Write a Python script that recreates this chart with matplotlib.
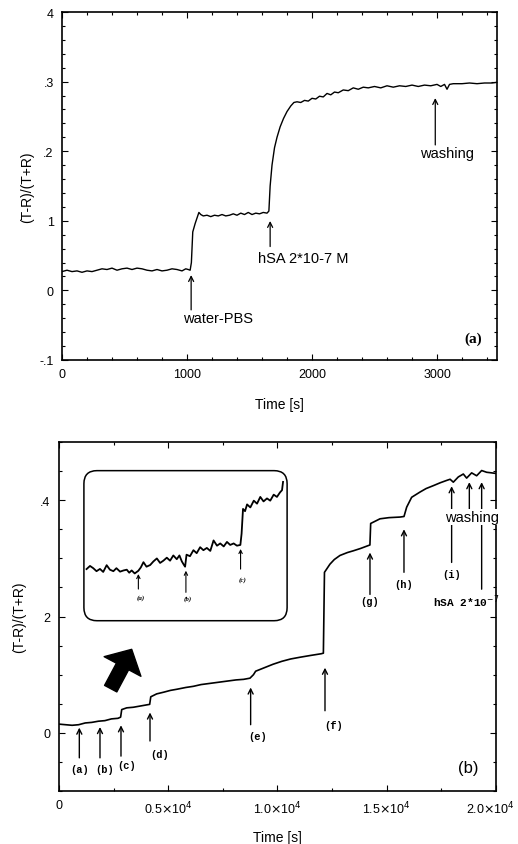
import matplotlib
matplotlib.use("Agg")
import numpy as np
import matplotlib.pyplot as plt
import matplotlib.transforms as mtransforms
from matplotlib.patches import FancyArrowPatch, FancyBboxPatch, ArrowStyle
from matplotlib.ticker import MultipleLocator

# ---- panel (a) trace ----
time_a = [0, 40, 80, 120, 160, 200, 240, 280, 320, 360, 400, 440, 480, 520, 560,
          600, 640, 680, 720, 760, 800, 840, 880, 920, 960, 990, 1010, 1025, 1035,
          1046, 1065, 1080, 1095, 1110, 1130, 1160, 1190, 1220, 1250, 1280, 1310,
          1340, 1370, 1400, 1430, 1460, 1490, 1520, 1550, 1580, 1610, 1640, 1655,
          1665, 1680, 1700, 1720, 1745, 1772, 1800, 1830, 1855, 1880, 1910, 1940,
          1970, 2000, 2030, 2060, 2090, 2120, 2150, 2180, 2210, 2250, 2290, 2330,
          2370, 2410, 2450, 2500, 2550, 2600, 2650, 2700, 2750, 2800, 2850, 2900,
          2950, 3000, 3030, 3060, 3080, 3100, 3130, 3200, 3260, 3320, 3380, 3440, 3480]
signal_a = [0.027, 0.029, 0.027, 0.028, 0.026, 0.028, 0.027, 0.029, 0.031, 0.030,
            0.032, 0.029, 0.031, 0.032, 0.030, 0.032, 0.031, 0.029, 0.028, 0.030,
            0.028, 0.029, 0.031, 0.030, 0.028, 0.031, 0.030, 0.029, 0.040, 0.084,
            0.096, 0.104, 0.112, 0.109, 0.107, 0.108, 0.106, 0.108, 0.107, 0.109,
            0.107, 0.108, 0.110, 0.108, 0.111, 0.109, 0.112, 0.109, 0.111, 0.110,
            0.112, 0.111, 0.114, 0.150, 0.180, 0.205, 0.220, 0.235, 0.247, 0.257,
            0.265, 0.270, 0.271, 0.270, 0.273, 0.272, 0.276, 0.275, 0.279, 0.278,
            0.283, 0.281, 0.285, 0.284, 0.288, 0.287, 0.291, 0.289, 0.292, 0.291,
            0.293, 0.291, 0.294, 0.292, 0.294, 0.293, 0.295, 0.293, 0.295, 0.294,
            0.296, 0.293, 0.296, 0.289, 0.296, 0.297, 0.297, 0.298, 0.297, 0.298,
            0.298, 0.299]

events_a = ["water-PBS", "hSA 2*10-7 M", "washing"]
event_time_a = [1033, 1665, 2986]
event_head_a = [0.022, 0.0997, 0.2763]
event_tail_a = [-0.028, 0.063, 0.209]
label_pos_a = [(1251, -0.040), (1932, 0.046), (3080, 0.197)]

# ---- panel (b) trace ----
time_b = [0, 300, 600, 900, 1200, 1500, 1800, 2100, 2400, 2700, 2820, 2870, 3100,
          3400, 3700, 4000, 4150, 4200, 4470, 4800, 5100, 5400, 5800, 6150, 6500,
          6900, 7300, 7700, 8100, 8450, 8740, 8900, 9000, 9400, 9800, 10200, 10600,
          11030, 11500, 12000, 12100, 12150, 12400, 12600, 12860, 13200, 13470,
          13800, 14156, 14230, 14265, 14691, 15100, 15606, 15790, 15912, 16140,
          16522, 16800, 17132, 17450, 17742, 17900, 18047, 18276, 18505, 18657,
          18886, 19115, 19344, 19573, 19800, 20000]
signal_b = [0.015, 0.014, 0.013, 0.014, 0.017, 0.018, 0.020, 0.021, 0.024, 0.025,
            0.027, 0.040, 0.043, 0.044, 0.046, 0.048, 0.049, 0.062, 0.067, 0.070,
            0.073, 0.075, 0.078, 0.080, 0.083, 0.085, 0.087, 0.089, 0.091, 0.092,
            0.094, 0.100, 0.106, 0.112, 0.118, 0.123, 0.127, 0.130, 0.133, 0.136,
            0.137, 0.276, 0.290, 0.298, 0.305, 0.310, 0.313, 0.317, 0.322, 0.323,
            0.360, 0.368, 0.370, 0.371, 0.372, 0.388, 0.405, 0.414, 0.420, 0.425,
            0.430, 0.434, 0.436, 0.431, 0.440, 0.445, 0.438, 0.447, 0.442, 0.451,
            0.448, 0.447, 0.446]

steps_b = ["(a)", "(b)", "(c)", "(d)", "(e)", "(f)", "(g)", "(h)", "(i)"]
step_time_b = [930, 1876, 2837, 4165, 8771, 12174, 14233, 15789, 17970]
step_head_b = [0.009, 0.010, 0.013, 0.035, 0.078, 0.112, 0.310, 0.350, 0.424]
step_tail_b = [-0.043, -0.043, -0.040, -0.014, 0.014, 0.038, 0.238, 0.276, 0.293]
step_text_b = [(930, -0.063), (2100, -0.063), (3100, -0.055), (4600, -0.036),
               (9100, -0.006), (12555, 0.014), (14233, 0.227), (15750, 0.256),
               (17970, 0.273)]
wash_time_b = [18780, 19344]
wash_head_b = [0.431, 0.431]
wash_tail_b = [0.382, 0.247]

# ---- inset (zoom of the start of panel b) ----
inset_x = [1.3, 3.0, 4.6, 6.2, 7.9, 9.5, 11.2, 12.8, 14.5, 16.0, 17.8, 19.5, 21.1,
           22.3, 23.5, 25.0, 26.8, 28.0, 29.3, 30.8, 32.6, 34.2, 35.9, 37.5, 39.1,
           40.8, 42.4, 44.0, 45.7, 47.0, 48.2, 49.3, 49.8, 50.5, 52.2, 53.9, 55.5,
           57.2, 58.8, 60.5, 62.2, 63.8, 65.5, 67.1, 68.8, 70.4, 72.0, 73.7, 75.3,
           77.0, 77.6, 78.3, 79.3, 80.3, 81.9, 83.6, 85.2, 86.8, 88.4, 90.1, 91.7,
           93.4, 95.0, 96.5, 97.5, 98.0]
inset_y = [34.4, 36.5, 35.0, 33.0, 34.5, 32.5, 37.0, 34.0, 33.0, 35.0, 32.7, 33.5,
           34.0, 32.0, 33.5, 31.5, 33.3, 35.5, 39.0, 36.0, 37.1, 39.5, 41.5, 38.5,
           40.0, 42.0, 40.0, 43.5, 41.0, 43.5, 39.5, 37.0, 36.0, 44.0, 43.0, 47.0,
           45.0, 49.0, 47.0, 48.5, 46.5, 53.5, 50.0, 51.5, 49.5, 52.5, 50.5, 51.5,
           50.0, 50.5, 58.0, 74.5, 73.0, 77.5, 75.5, 80.0, 78.0, 82.5, 79.5, 81.5,
           80.0, 84.0, 82.5, 85.5, 87.0, 92.5]
inset_steps = ["(a)", "(b)", "(c)"]
inset_step_x = [26.8, 50.2, 77.1]
inset_head = [31.1, 33.3, 47.8]
inset_tail = [21.1, 18.9, 34.4]
inset_text_y = [16.0, 15.0, 28.0]

plt.rcParams['font.family'] = ['Liberation Sans', 'DejaVu Sans']
mono = ['Liberation Mono', 'DejaVu Sans Mono']

fig = plt.figure(figsize=(5.18, 8.45), dpi=100)


def style_axes(ax):
    for s in ax.spines.values():
        s.set_linewidth(1.2)
    ax.tick_params(which='both', direction='in', top=True, right=True,
                   labelsize=9, width=0.8)
    ax.tick_params(which='major', length=4, pad=6)
    ax.tick_params(which='minor', length=2)


# ---------------- panel (a) ----------------
ax1 = fig.add_axes([0.1197, 0.5728, 0.8398, 0.4118])
ax1.plot(time_a, signal_a, color='black', lw=1.0)
ax1.set_xlim(0, 3480)
ax1.set_ylim(-0.1, 0.4)
ax1.set_xticks([0, 1000, 2000, 3000])
ax1.set_yticks([-0.1, 0, 0.1, 0.2, 0.3, 0.4])
ax1.set_yticklabels(["-.1", "0", "1", ".2", ".3", "4"])
ax1.yaxis.set_minor_locator(MultipleLocator(0.02))
ax1.xaxis.set_minor_locator(MultipleLocator(200))
style_axes(ax1)
ax1.set_xlabel("Time [s]", fontsize=10, labelpad=12)
ax1.set_ylabel("(T-R)/(T+R)", fontsize=10, labelpad=4)

for name, t, h, tl, pos in zip(events_a, event_time_a, event_head_a, event_tail_a, label_pos_a):
    ax1.annotate("", xy=(t, h), xytext=(t, tl),
                 arrowprops=dict(arrowstyle='->', lw=0.9, color='black',
                                 shrinkA=0, shrinkB=0, mutation_scale=9))
    ax1.text(pos[0], pos[1], name, ha='center', va='center', fontsize=10.5)

ax1.text(3293, -0.069, "(a)", ha='center', va='center', fontsize=11,
         family=['Liberation Serif', 'DejaVu Serif'], weight='bold')

# ---------------- panel (b) ----------------
ax2 = fig.add_axes([0.1139, 0.0627, 0.8436, 0.4130])
ax2.plot(time_b, signal_b, color='black', lw=1.2)
ax2.set_xlim(0, 20000)
ax2.set_ylim(-0.1, 0.5)
ax2.set_xticks([0, 5000, 10000, 15000, 20000])
ax2.set_xticklabels(["0", r"0.5$\times$10$^4$", r"1.0$\times$10$^4$",
                     r"1.5$\times$10$^4$", r"2.0$\times$10$^4$"])
ax2.set_yticks([0, 0.2, 0.4])
ax2.set_yticklabels(["0", "2", ".4"])
ax2.yaxis.set_minor_locator(MultipleLocator(0.05))
ax2.xaxis.set_minor_locator(MultipleLocator(2500))
style_axes(ax2)
ax2.set_xlabel("Time [s]", fontsize=10, labelpad=10)
ax2.set_ylabel("(T-R)/(T+R)", fontsize=10, labelpad=10)

# last tick label sits at the right edge of the figure, nudge it in a bit
shift = mtransforms.ScaledTranslation(-6 / 100, 0, fig.dpi_scale_trans)
last = ax2.get_xticklabels()[-1]
last.set_transform(last.get_transform() + shift)

for name, t, h, tl, pos in zip(steps_b, step_time_b, step_head_b, step_tail_b, step_text_b):
    ax2.annotate("", xy=(t, h), xytext=(t, tl),
                 arrowprops=dict(arrowstyle='->', lw=1.0, color='black',
                                 shrinkA=0, shrinkB=0, mutation_scale=9))
    ax2.text(pos[0], pos[1], name, ha='center', va='center', fontsize=7.5,
             family=mono, weight='bold')

for t, h, tl in zip(wash_time_b, wash_head_b, wash_tail_b):
    ax2.annotate("", xy=(t, h), xytext=(t, tl),
                 arrowprops=dict(arrowstyle='->', lw=1.0, color='black',
                                 shrinkA=0, shrinkB=0, mutation_scale=9))
ax2.text(18886, 0.371, "washing", ha='center', va='center', fontsize=10.5,
         zorder=5, bbox=dict(facecolor='white', edgecolor='none', pad=0.5))
ax2.text(18657, 0.227, r"hSA 2*10$^{-7}$", ha='center', va='center', fontsize=8,
         family=mono, weight='bold')
ax2.text(18720, -0.06, "(b)", ha='center', va='center', fontsize=12)

# big filled arrow pointing to the inset
big = FancyArrowPatch((2366, 0.076), (3327, 0.1436),
                      arrowstyle=ArrowStyle.Simple(head_length=14, head_width=30, tail_width=10),
                      mutation_scale=1, shrinkA=0, shrinkB=0,
                      facecolor='black', edgecolor='black')
ax2.add_patch(big)

# inset
ins = ax2.inset_axes([0.057, 0.488, 0.465, 0.43])
ins.set_xlim(0, 100)
ins.set_ylim(0, 100)
ins.axis('off')
box = FancyBboxPatch((0, 0), 100, 100, boxstyle="round,pad=0,rounding_size=6.4",
                     mutation_aspect=1.36, facecolor='none', edgecolor='black',
                     lw=1.1, clip_on=False)
ins.add_patch(box)
ins.plot(inset_x, inset_y, color='black', lw=1.3)
for name, x, h, tl, ty in zip(inset_steps, inset_step_x, inset_head, inset_tail, inset_text_y):
    ins.annotate("", xy=(x, h), xytext=(x, tl),
                 arrowprops=dict(arrowstyle='->', lw=0.8, color='black',
                                 shrinkA=0, shrinkB=0, mutation_scale=6))
    ins.text(x + 1, ty, name, ha='center', va='center', fontsize=5,
             family=['Liberation Serif', 'DejaVu Serif'], style='italic', weight='bold')

fig.savefig("out.png", dpi=100)
